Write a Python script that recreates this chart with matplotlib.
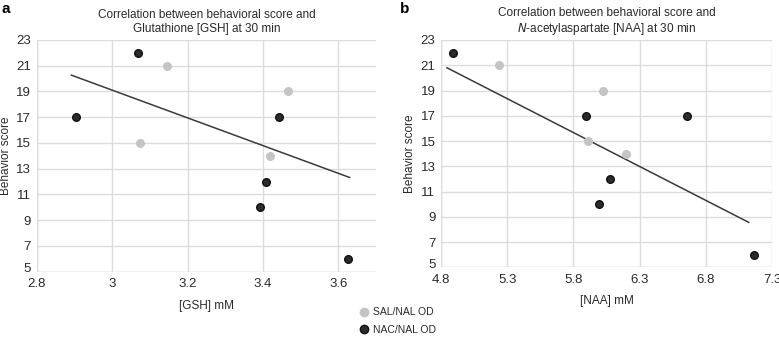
import matplotlib.pyplot as plt
from matplotlib.lines import Line2D
from matplotlib.transforms import ScaledTranslation

# panel a: GSH
gsh_sal_x = [3.074, 3.145, 3.42, 3.466]
gsh_sal_y = [15, 21, 14, 19]
gsh_nac_x = [3.069, 2.904, 3.444, 3.409, 3.393, 3.625]
gsh_nac_y = [22, 17, 17, 12, 10, 6]
gsh_trend_x = [2.892, 3.63]
gsh_trend_y = [20.27, 12.32]
gsh_ticks = [2.8, 3.0, 3.2, 3.4, 3.6]
gsh_ticklabels = ["2.8", "3", "3.2", "3.4", "3.6"]

# panel b: NAA
naa_sal_x = [5.237, 6.022, 5.914, 6.197]
naa_sal_y = [21, 19, 15, 14]
naa_nac_x = [4.89, 5.898, 6.659, 6.076, 5.992, 7.164]
naa_nac_y = [22, 17, 17, 12, 10, 6]
naa_trend_x = [4.845, 7.124]
naa_trend_y = [20.8, 8.56]
naa_ticks = [4.8, 5.3, 5.8, 6.3, 6.8, 7.3]
naa_ticklabels = ["4.8", "5.3", "5.8", "6.3", "6.8", "7.3"]

y_ticks = [5, 7, 9, 11, 13, 15, 17, 19, 21, 23]
group_names = ["SAL/NAL OD", "NAC/NAL OD"]

SAL_COLOR = "#c4c4c4"
NAC_COLOR = "#2b2b2b"
GRID_COLOR = "#dcdcdc"
TEXT_COLOR = "#2a2a2a"

plt.rcParams["font.family"] = ["Liberation Sans", "DejaVu Sans"]

fig = plt.figure(figsize=(7.79, 3.43), dpi=100)
ax_a = fig.add_axes([36.7 / 779, 1 - 271.7 / 343, (376 - 36.7) / 779, (271.7 - 40) / 343])
ax_b = fig.add_axes([441 / 779, 1 - 267.3 / 343, (772 - 441) / 779, (267.3 - 40) / 343])


def draw_panel(ax, sal_x, sal_y, nac_x, nac_y, trend_x, trend_y, xlim, ticks, ticklabels, xlabel):
    ax.scatter(sal_x, sal_y, s=30, color=SAL_COLOR, edgecolor=SAL_COLOR, zorder=3)
    ax.scatter(nac_x, nac_y, s=30, color=NAC_COLOR, edgecolor="#111111", linewidth=1.0, zorder=3)
    ax.plot(trend_x, trend_y, color="#3a3a3a", linewidth=1.1, zorder=2)
    ax.set_xlim(*xlim)
    ax.set_ylim(5, 23)
    ax.set_xticks(ticks)
    ax.set_xticklabels(ticklabels)
    ax.set_yticks(y_ticks)
    ax.grid(True, color=GRID_COLOR, linewidth=1.0)
    ax.set_axisbelow(True)
    for s in ax.spines.values():
        s.set_visible(False)
    ax.axhline(5, color=GRID_COLOR, linewidth=1.0, zorder=0)
    ax.axvline(xlim[0], color=GRID_COLOR, linewidth=1.0, zorder=0)
    ax.tick_params(axis="x", length=0, labelsize=9.5, colors=TEXT_COLOR, pad=4.5)
    ax.tick_params(axis="y", length=0, labelsize=9.5, colors=TEXT_COLOR, pad=4)
    # lowest y label sits a touch higher, as in the original
    bottom = ax.get_yticklabels()[0]
    bottom.set_transform(bottom.get_transform() + ScaledTranslation(0, 3 / 72, fig.dpi_scale_trans))
    ax.set_xlabel(xlabel, fontsize=8.5, color=TEXT_COLOR, labelpad=7)
    ax.set_ylabel("Behavior score", fontsize=8.5, color=TEXT_COLOR, labelpad=3)


draw_panel(ax_a, gsh_sal_x, gsh_sal_y, gsh_nac_x, gsh_nac_y, gsh_trend_x, gsh_trend_y,
           (2.8, 3.7), gsh_ticks, gsh_ticklabels, "[GSH] mM")
draw_panel(ax_b, naa_sal_x, naa_sal_y, naa_nac_x, naa_nac_y, naa_trend_x, naa_trend_y,
           (4.8, 7.3), naa_ticks, naa_ticklabels, "[NAA] mM")

ax_a.set_title("Correlation between behavioral score and\nGlutathione [GSH] at 30 min",
               fontsize=8.5, color=TEXT_COLOR, pad=6, linespacing=1.15)
ax_b.set_title("Correlation between behavioral score and\n$\\mathit{N}$-acetylaspartate [NAA] at 30 min",
               fontsize=8.5, color=TEXT_COLOR, pad=6, linespacing=1.15)

fig.text(2 / 779, 1 - 9 / 343, "a", fontsize=11, fontweight="bold", va="center", ha="left")
fig.text(400 / 779, 1 - 9 / 343, "b", fontsize=11, fontweight="bold", va="center", ha="left")

handles = [
    Line2D([], [], marker="o", linestyle="", markersize=6, markerfacecolor=SAL_COLOR, markeredgecolor=SAL_COLOR),
    Line2D([], [], marker="o", linestyle="", markersize=6, markerfacecolor=NAC_COLOR, markeredgecolor="#111111"),
]
fig.legend(handles, group_names, loc="center", bbox_to_anchor=(397 / 779, 1 - 321 / 343),
           frameon=False, fontsize=7.5, handletextpad=0.2, labelspacing=0.7, handlelength=1.2,
           labelcolor=TEXT_COLOR)

fig.savefig("out.png", dpi=100)
